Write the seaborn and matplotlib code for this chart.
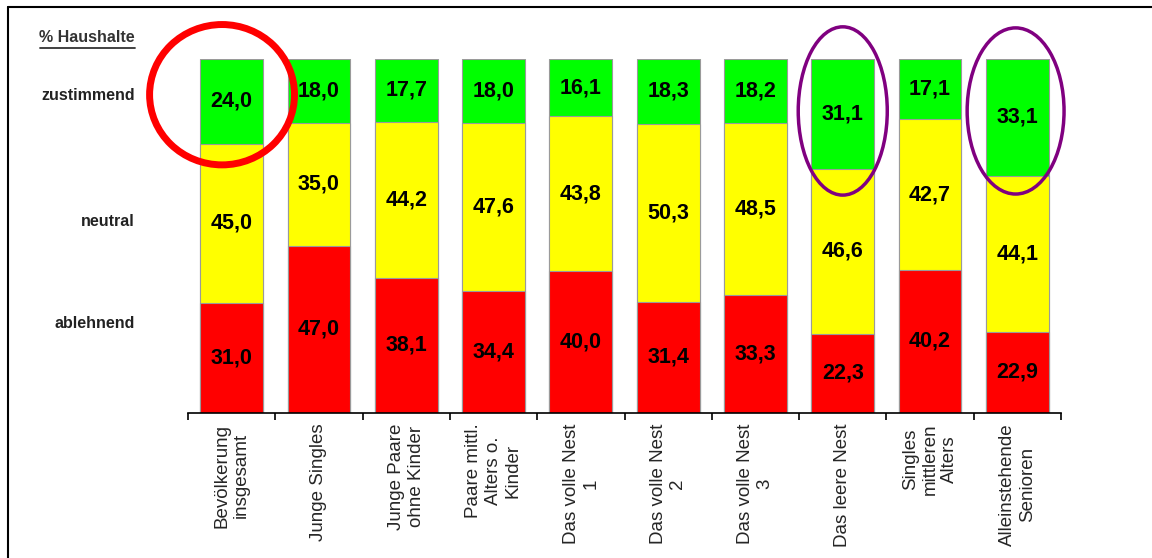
import numpy as np
import pandas as pd
import seaborn as sns
import matplotlib
matplotlib.use("Agg")
import matplotlib.pyplot as plt
from matplotlib.patches import Ellipse
from matplotlib.lines import Line2D

categories = ["Bevölkerung\ninsgesamt", "Junge Singles", "Junge Paare\nohne Kinder",
              "Paare mittl.\nAlters o.\nKinder", "Das volle Nest\n1", "Das volle Nest\n2",
              "Das volle Nest\n3", "Das leere Nest", "Singles\nmittleren\nAlters",
              "Alleinstehende\nSenioren"]
ablehnend = [31.0, 47.0, 38.1, 34.4, 40.0, 31.4, 33.3, 22.3, 40.2, 22.9]
neutral = [45.0, 35.0, 44.2, 47.6, 43.8, 50.3, 48.5, 46.6, 42.7, 44.1]
zustimmend = [24.0, 18.0, 17.7, 18.0, 16.1, 18.3, 18.2, 31.1, 17.1, 33.1]
row_labels = ["zustimmend", "neutral", "ablehnend"]

sns.set_theme(style="white")
plt.rcParams['font.family'] = ['Liberation Sans', 'DejaVu Sans']

W, H = 1152, 558
fig = plt.figure(figsize=(W / 100, H / 100), dpi=100)
ax = fig.add_axes([188 / W, (H - 412.5) / H, 873 / W, 353.5 / H])

df = pd.DataFrame({"cat": categories, "a": ablehnend, "n": neutral, "z": zustimmend})
df["an"] = df["a"] + df["n"]
df["anz"] = df["an"] + df["z"]

bw = 0.72
ec = "#9a9a9a"
sns.barplot(data=df, x="cat", y="anz", color="#00FF00", saturation=1, width=bw,
            edgecolor=ec, linewidth=0.8, ax=ax)
sns.barplot(data=df, x="cat", y="an", color="#FFFF00", saturation=1, width=bw,
            edgecolor=ec, linewidth=0.8, ax=ax)
sns.barplot(data=df, x="cat", y="a", color="#FF0000", saturation=1, width=bw,
            edgecolor=ec, linewidth=0.8, ax=ax)

for i, (a, n, z) in enumerate(zip(ablehnend, neutral, zustimmend)):
    for base, v in ((0, a), (a, n), (a + n, z)):
        ax.text(i, base + v / 2, f"{v:.1f}".replace(".", ","), ha="center", va="center",
                fontsize=15.5, fontweight="bold", color="black")

ax.set_xlim(-0.5, len(categories) - 0.5)
ax.set_ylim(0, 100)
ax.set_xlabel("")
ax.set_ylabel("")
ax.set_yticks([])
for s in ["left", "right", "top"]:
    ax.spines[s].set_visible(False)
ax.spines["bottom"].set_color("black")
ax.spines["bottom"].set_linewidth(1.2)
ax.set_xticks(np.arange(len(categories)))
ax.set_xticklabels(categories, rotation=90, fontsize=13.5, multialignment="center")
ax.set_xticks(np.arange(-0.5, len(categories)), minor=True)
ax.tick_params(axis="x", which="major", length=0, pad=8)
ax.tick_params(axis="x", which="minor", length=5, width=1.2, color="black", direction="out", bottom=True)

# circles / ellipses
ax.add_patch(Ellipse((-0.11, 89.9), 1.66, 39.7, fill=False, edgecolor="#FF0000", linewidth=5, clip_on=False))
ax.add_patch(Ellipse((7.0, 85.3), 1.02, 47.6, fill=False, edgecolor="#800080", linewidth=2.5, clip_on=False))
ax.add_patch(Ellipse((8.98, 85.3), 1.11, 47.0, fill=False, edgecolor="#800080", linewidth=2.5, clip_on=False))

# left labels
fig.text(135 / W, 1 - 38 / H, "% Haushalte", ha="right", va="center", fontsize=11.5,
         fontweight="bold", color="#333333")
fig.add_artist(Line2D([40 / W, 135 / W], [1 - 47.5 / H] * 2, color="#333333", linewidth=1.3))
for lab, y in zip(row_labels, [95, 222, 323]):
    fig.text(135 / W, 1 - y / H, lab, ha="right", va="center", fontsize=11.5,
             fontweight="bold", color="#222222")

# frame
fig.add_artist(Line2D([7.5 / W, 7.5 / W], [0, 1 - 7 / H], color="black", linewidth=1.5))
fig.add_artist(Line2D([7.5 / W, 1], [1 - 7 / H, 1 - 7 / H], color="black", linewidth=1.5))

fig.savefig("out.png", dpi=100)
